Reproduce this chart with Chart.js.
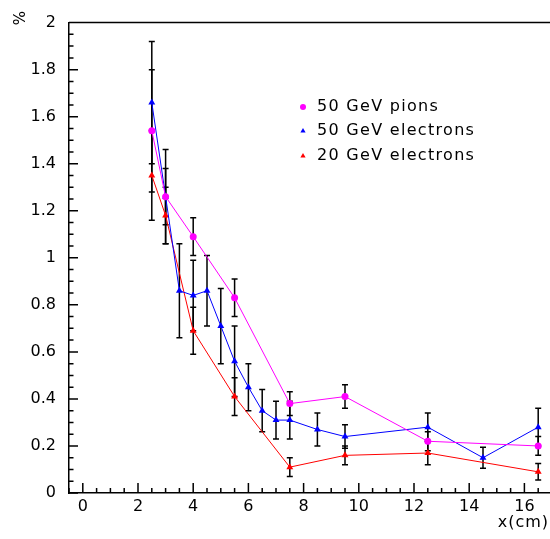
<!DOCTYPE html>
<html>
<head>
<meta charset="utf-8">
<script src="https://cdn.jsdelivr.net/npm/chart.js@4/dist/chart.umd.min.js"></script>
<style>
html, body { margin: 0; padding: 0; background: #fff; overflow: hidden; }
#wrap { width: 556px; height: 539px; }
</style>
</head>
<body>
<div id="wrap"><canvas id="chart"></canvas></div>
<script>
// values
const pionX = [2.5, 3, 4, 5.5, 7.5, 9.5, 12.5, 16.5];
const pionY = [1.54, 1.26, 1.09, 0.83, 0.38, 0.41, 0.22, 0.20];
const pionErr = [0.26, 0.20, 0.08, 0.08, 0.05, 0.05, 0.04, 0.04];

const ele50X = [2.5, 3, 3.5, 4, 4.5, 5, 5.5, 6, 6.5, 7, 7.5, 8.5, 9.5, 12.5, 14.5, 16.5];
const ele50Y = [1.66, 1.26, 0.86, 0.84, 0.86, 0.71, 0.56, 0.45, 0.35, 0.31, 0.31, 0.27, 0.24, 0.28, 0.15, 0.28];
const ele50Err = [0.26, 0.12, 0.20, 0.15, 0.15, 0.16, 0.15, 0.10, 0.09, 0.08, 0.08, 0.07, 0.05, 0.06, 0.045, 0.08];

const ele20X = [2.5, 3, 4, 5.5, 7.5, 9.5, 12.5, 16.5];
const ele20Y = [1.35, 1.18, 0.69, 0.41, 0.11, 0.16, 0.17, 0.09];
const ele20Err = [0.19, 0.12, 0.10, 0.08, 0.04, 0.04, 0.05, 0.035];

const seriesNames = ['50 GeV pions', '50 GeV electrons', '20 GeV electrons'];
const xTicks = [0, 2, 4, 6, 8, 10, 12, 14, 16];
const yTicks = [0, 0.2, 0.4, 0.6, 0.8, 1, 1.2, 1.4, 1.6, 1.8, 2];

const FONT = '"DejaVu Sans", sans-serif';
const FSIZE = 16;

function points(xs, ys) {
    return xs.map((x, i) => ({ x: x, y: ys[i] }));
}

function makeSet(name, xs, ys, errs, color, style, r) {
    return {
        label: name,
        data: points(xs, ys),
        errors: errs,
        showLine: true,
        borderColor: color,
        backgroundColor: color,
        borderWidth: 1,
        pointStyle: style,
        pointRadius: r,
        pointBorderWidth: 0,
        pointBackgroundColor: color
    };
}

// vertical error bars with small caps, black like the original
const errorBars = {
    id: 'errorBars',
    beforeDatasetsDraw(chart) {
        const { ctx, scales: { x, y } } = chart;
        ctx.save();
        ctx.strokeStyle = '#000';
        ctx.lineWidth = 1.5;
        chart.data.datasets.forEach(ds => {
            ds.data.forEach((p, i) => {
                const e = ds.errors[i];
                const px = x.getPixelForValue(p.x);
                const top = y.getPixelForValue(p.y + e);
                const bot = y.getPixelForValue(p.y - e);
                ctx.beginPath();
                ctx.moveTo(px, top); ctx.lineTo(px, bot);
                ctx.moveTo(px - 3, top); ctx.lineTo(px + 3, top);
                ctx.moveTo(px - 3, bot); ctx.lineTo(px + 3, bot);
                ctx.stroke();
            });
        });
        ctx.restore();
    }
};

// frame top line, inward ticks, axis titles, legend
const frame = {
    id: 'frame',
    afterDraw(chart) {
        const { ctx, chartArea: a, scales: { x, y } } = chart;
        ctx.save();
        ctx.strokeStyle = '#000';
        ctx.lineWidth = 1.5;
        ctx.beginPath();
        ctx.moveTo(a.left, a.top); ctx.lineTo(a.right, a.top);
        // x ticks every 0.5, major every 2
        for (let v = -0.5; v <= x.max + 1e-9; v += 0.5) {
            const px = x.getPixelForValue(v);
            const len = Math.abs(v % 2) < 1e-9 ? 10 : 5;
            ctx.moveTo(px, a.bottom); ctx.lineTo(px, a.bottom - len);
        }
        // y ticks every 0.05, major every 0.2
        for (let k = 0; k <= 40; k++) {
            const v = k * 0.05;
            const py = y.getPixelForValue(v);
            const len = k % 4 === 0 ? 9 : 4.5;
            ctx.moveTo(a.left, py); ctx.lineTo(a.left + len, py);
        }
        ctx.stroke();

        ctx.fillStyle = '#000';
        ctx.font = FSIZE + 'px ' + FONT;
        ctx.textAlign = 'right';
        ctx.textBaseline = 'middle';
        ctx.letterSpacing = '1px';
        ctx.fillText('x(cm)', 549, 523);

        ctx.save();
        ctx.letterSpacing = '0px';
        ctx.translate(21, 18);
        ctx.rotate(-Math.PI / 2);
        ctx.textAlign = 'center';
        ctx.font = '15px ' + FONT;
        ctx.fillText('%', 0, 0);
        ctx.restore();

        const rows = [107, 131, 156];
        ctx.textAlign = 'left';
        ctx.font = '16px ' + FONT;
        ctx.letterSpacing = '1.3px';
        chart.data.datasets.forEach((ds, i) => {
            ctx.fillStyle = ds.backgroundColor;
            Chart.helpers.drawPoint(ctx, { pointStyle: ds.pointStyle, radius: 3, rotation: 0, borderWidth: 0 }, 303, rows[i]);
            ctx.fillStyle = '#000';
            ctx.fillText(ds.label, 317, rows[i]);
        });
        ctx.restore();
    }
};

const ctx = document.getElementById('chart').getContext('2d');
new Chart(ctx, {
    type: 'scatter',
    data: {
        datasets: [
            makeSet(seriesNames[0], pionX, pionY, pionErr, '#ff00ff', 'circle', 3.5),
            makeSet(seriesNames[1], ele50X, ele50Y, ele50Err, '#0000ff', 'triangle', 4),
            makeSet(seriesNames[2], ele20X, ele20Y, ele20Err, '#ff0000', 'triangle', 4)
        ]
    },
    options: {
        responsive: true,
        maintainAspectRatio: false,
        animation: false,
        layout: { padding: { top: 11, right: 2, left: 0, bottom: 0 } },
        plugins: {
            legend: { display: false },
            tooltip: { enabled: false }
        },
        scales: {
            x: {
                type: 'linear',
                min: -0.5,
                max: 17,
                afterBuildTicks: s => { s.ticks = xTicks.map(v => ({ value: v })); },
                afterFit: s => { s.height = 46; },
                grid: { display: false, drawTicks: false },
                border: { display: true, color: '#000', width: 1.5 },
                ticks: { color: '#000', padding: 4, maxRotation: 0, autoSkip: false,
                    font: { family: FONT, size: FSIZE }, callback: v => String(v) }
            },
            y: {
                type: 'linear',
                min: 0,
                max: 2,
                afterBuildTicks: s => { s.ticks = yTicks.map(v => ({ value: v })); },
                afterFit: s => { s.width = 69; },
                grid: { display: false, drawTicks: false },
                border: { display: true, color: '#000', width: 1.5 },
                ticks: { color: '#000', padding: 13, autoSkip: false,
                    font: { family: FONT, size: FSIZE }, callback: v => String(+v.toFixed(2)) }
            }
        }
    },
    plugins: [errorBars, frame]
});
</script>
</body>
</html>
